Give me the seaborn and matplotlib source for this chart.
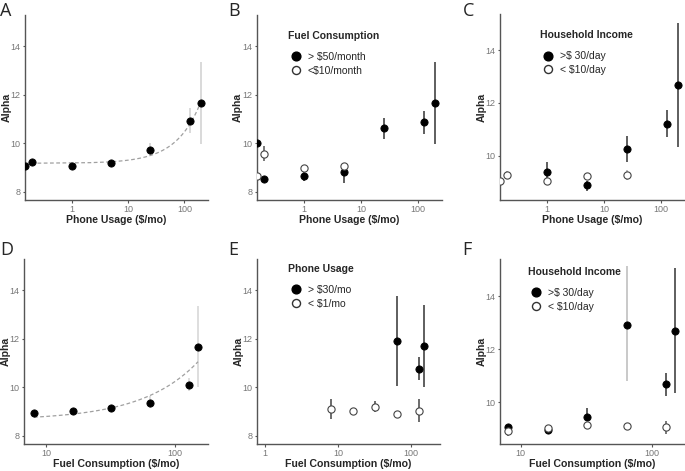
import numpy as np
import matplotlib
matplotlib.use("Agg")
import matplotlib.pyplot as plt
from matplotlib.lines import Line2D
import seaborn as sns

nan = np.nan

# --- A: phone usage, all households ---
a_x = [0.15, 0.2, 1, 5, 25, 125, 200]
a_y = [9.06, 9.24, 9.07, 9.2, 9.72, 10.93, 11.68]
a_lo = [nan, nan, nan, nan, 9.52, 10.44, 9.97]
a_hi = [nan, nan, nan, nan, 10.0, 11.45, 13.37]

# --- B: phone usage split by fuel consumption ---
b_hi_x = [0.15, 0.2, 1, 5, 25, 125, 200]
b_hi_y = [10.02, 8.55, 8.65, 8.81, 10.62, 10.87, 11.68]
b_hi_lo = [nan, nan, 8.45, 8.39, 10.17, 10.41, 9.97]
b_hi_up = [nan, nan, 8.85, 9.17, 11.07, 11.33, 13.36]
b_lo_x = [0.15, 0.2, 1, 5]
b_lo_y = [8.66, 9.56, 8.97, 9.06]
b_lo_lo = [nan, 9.27, nan, 8.95]
b_lo_up = [nan, 9.89, nan, 9.2]

# --- C: phone usage split by household income ---
c_hi_x = [1, 5, 25, 125, 200]
c_hi_y = [9.37, 8.89, 10.24, 11.2, 12.68]
c_hi_lo = [9.14, 8.67, 9.75, 10.7, 10.34]
c_hi_up = [9.75, 9.05, 10.75, 11.73, 15.04]
c_lo_x = [0.15, 0.2, 1, 5, 25]
c_lo_y = [9.04, 9.27, 9.05, 9.23, 9.25]
c_lo_lo = [nan, 9.15, nan, 9.1, 9.08]
c_lo_up = [nan, 9.4, nan, 9.35, 9.45]

# --- D: fuel consumption, all households ---
d_x = [8, 16, 32, 64, 128, 150]
d_y = [8.94, 9.01, 9.15, 9.36, 10.11, 11.67]
d_lo = [nan, nan, nan, 9.15, 9.83, 10.0]
d_hi = [nan, nan, nan, 9.63, 10.39, 13.35]

# --- E: fuel consumption split by phone usage ---
e_hi_x = [64, 128, 150]
e_hi_y = [11.9, 10.76, 11.7]
e_hi_lo = [10.07, 10.31, 10.02]
e_hi_up = [13.78, 11.24, 13.39]
e_lo_x = [8, 16, 32, 64, 128]
e_lo_y = [9.1, 9.03, 9.2, 8.89, 9.03]
e_lo_lo = [8.68, nan, 8.97, nan, 8.55]
e_lo_up = [9.51, nan, 9.42, nan, 9.51]

# --- F: fuel consumption split by household income ---
f_hi_x = [8, 16, 32, 64, 128, 150]
f_hi_y = [9.06, 8.97, 9.45, 12.93, 10.69, 12.7]
f_hi_lo = [nan, nan, 9.28, 10.79, 10.25, 10.35]
f_hi_up = [nan, nan, 9.79, 15.13, 11.11, 15.07]
f_lo_x = [8, 16, 32, 64, 128]
f_lo_y = [8.93, 9.03, 9.16, 9.12, 9.06]
f_lo_lo = [8.75, nan, nan, nan, 8.8]
f_lo_up = [9.0, nan, nan, nan, 9.3]

sns.set_style("white")
plt.rcParams["font.family"] = ["Liberation Sans", "DejaVu Sans"]

fig = plt.figure(figsize=(6.85, 4.71), dpi=100)

W, H = 0.270, 0.393
axA = fig.add_axes([0.0365, 0.5754, W - 0.003, H])
axB = fig.add_axes([0.375, 0.5754, W, H])
axC = fig.add_axes([0.730, 0.5754, W, H + 0.002])
axD = fig.add_axes([0.035, 0.0573, W - 0.002, H])
axE = fig.add_axes([0.375, 0.0573, W - 0.002, H])
axF = fig.add_axes([0.730, 0.0573, W, H])

SPINE = "#555555"
TICKC = "#777777"


def errbars(ax, x, lo, hi, color, lw=1.1):
    ax.vlines(x, lo, hi, colors=color, lw=lw, zorder=2)


def points(ax, x, y, filled=True, size=27):
    if filled:
        sns.scatterplot(x=x, y=y, ax=ax, color="black", edgecolor="black",
                        s=size, linewidth=0.6, zorder=3, legend=False)
    else:
        sns.scatterplot(x=x, y=y, ax=ax, color="white", edgecolor="#444444",
                        s=size, linewidth=0.8, zorder=3, legend=False)


def style(ax, xlim, ylim, xticks, yticks, xlabel):
    ax.set_xscale("log")
    ax.set_xlim(*xlim)
    ax.set_ylim(*ylim)
    ax.set_xticks(xticks)
    ax.set_xticklabels([f"{t:g}" for t in xticks])
    ax.xaxis.set_minor_locator(matplotlib.ticker.NullLocator())
    ax.set_yticks(yticks)
    ax.set_yticklabels([f"{t:g}" for t in yticks])
    for s in ["top", "right"]:
        ax.spines[s].set_visible(False)
    for s in ["left", "bottom"]:
        ax.spines[s].set_color(SPINE)
        ax.spines[s].set_linewidth(1.0)
    ax.tick_params(axis="both", which="major", length=1.8, width=0.8,
                   color=SPINE, labelcolor=TICKC, labelsize=6.5, pad=1.5,
                   left=True, bottom=True)
    ax.set_xlabel(xlabel, fontsize=7.6, fontweight="bold", labelpad=1.2)
    ax.set_ylabel("Alpha", fontsize=7.6, fontweight="bold")
    ax.yaxis.set_label_coords(-0.074, 0.5)
    ax.grid(False)


def legend(ax, title, labels, anchor):
    handles = [
        Line2D([], [], ls="", marker="o", ms=6.3, mfc="black", mec="black"),
        Line2D([], [], ls="", marker="o", ms=5.8, mfc="white", mec="#333333", mew=1.0),
    ]
    leg = ax.legend(handles, labels, title=title, loc="upper left",
                    bbox_to_anchor=anchor, frameon=False, fontsize=7.5,
                    title_fontproperties={"weight": "bold", "size": 7.5},
                    handletextpad=0.3, labelspacing=0.35, borderpad=0,
                    borderaxespad=0, handlelength=1.6)
    leg._legend_box.align = "left"
    leg._legend_box.sep = 8


phone_lim = (0.15, 260)
fuel_lim_d = (6.7, 178)

# A
errbars(axA, a_x, a_lo, a_hi, "#cfcfcf")
sns.regplot(x=a_x, y=a_y, ax=axA, scatter=False, ci=None,
            line_kws={"color": "#a0a0a0", "ls": (0, (3, 2)), "lw": 0.9})
points(axA, a_x, a_y)
style(axA, phone_lim, (7.67, 15.3), [1, 10, 100], [8, 10, 12, 14],
      "Phone Usage ($/mo)")

# B
errbars(axB, b_hi_x, b_hi_lo, b_hi_up, "#333333")
errbars(axB, b_lo_x, b_lo_lo, b_lo_up, "#555555")
points(axB, b_hi_x, b_hi_y)
points(axB, b_lo_x, b_lo_y, filled=False)
style(axB, phone_lim, (7.67, 15.3), [1, 10, 100], [8, 10, 12, 14],
      "Phone Usage ($/mo)")
legend(axB, "Fuel Consumption", ["> $50/month", "<$10/month"], (0.168, 0.914))

# C
errbars(axC, c_hi_x, c_hi_lo, c_hi_up, "#333333")
errbars(axC, c_lo_x, c_lo_lo, c_lo_up, "#aaaaaa")
points(axC, c_hi_x, c_hi_y)
points(axC, c_lo_x, c_lo_y, filled=False)
style(axC, phone_lim, (8.32, 15.37), [1, 10, 100], [10, 12, 14],
      "Phone Usage ($/mo)")
legend(axC, "Household Income", [">$ 30/day", "< $10/day"], (0.216, 0.913))

# D
errbars(axD, d_x, d_lo, d_hi, "#d5d5d5")
sns.regplot(x=d_x, y=d_y, ax=axD, scatter=False, ci=None,
            line_kws={"color": "#a0a0a0", "ls": (0, (3, 2)), "lw": 0.9})
points(axD, d_x, d_y)
style(axD, fuel_lim_d, (7.66, 15.3), [10, 100], [8, 10, 12, 14],
      "Fuel Consumption ($/mo)")

# E
errbars(axE, e_hi_x, e_hi_lo, e_hi_up, "#333333")
errbars(axE, e_lo_x, e_lo_lo, e_lo_up, "#444444")
points(axE, e_hi_x, e_hi_y)
points(axE, e_lo_x, e_lo_y, filled=False)
style(axE, (0.785, 251), (7.66, 15.3), [1, 10, 100], [8, 10, 12, 14],
      "Fuel Consumption ($/mo)")
legend(axE, "Phone Usage", ["> $30/mo", "< $1/mo"], (0.168, 0.973))

# F
errbars(axF, f_hi_x[:3], f_hi_lo[:3], f_hi_up[:3], "#333333")
errbars(axF, f_hi_x[3:4], f_hi_lo[3:4], f_hi_up[3:4], "#bbbbbb")
errbars(axF, f_hi_x[4:], f_hi_lo[4:], f_hi_up[4:], "#333333")
errbars(axF, f_lo_x, f_lo_lo, f_lo_up, "#555555")
points(axF, f_hi_x, f_hi_y)
points(axF, f_lo_x, f_lo_y, filled=False)
style(axF, (6.95, 178), (8.43, 15.4), [10, 100], [10, 12, 14],
      "Fuel Consumption ($/mo)")
legend(axF, "Household Income", [">$ 30/day", "< $10/day"], (0.15, 0.957))

# panel letters
for lab, x, y in [("A", 0.0, 0.995), ("B", 0.333, 0.995), ("C", 0.675, 0.995),
                  ("D", 0.0, 0.488), ("E", 0.333, 0.488), ("F", 0.675, 0.488)]:
    fig.text(x, y, lab, fontsize=13, family=["Open Sans", "DejaVu Sans"],
             va="top", ha="left")

fig.savefig("out.png", dpi=100)
